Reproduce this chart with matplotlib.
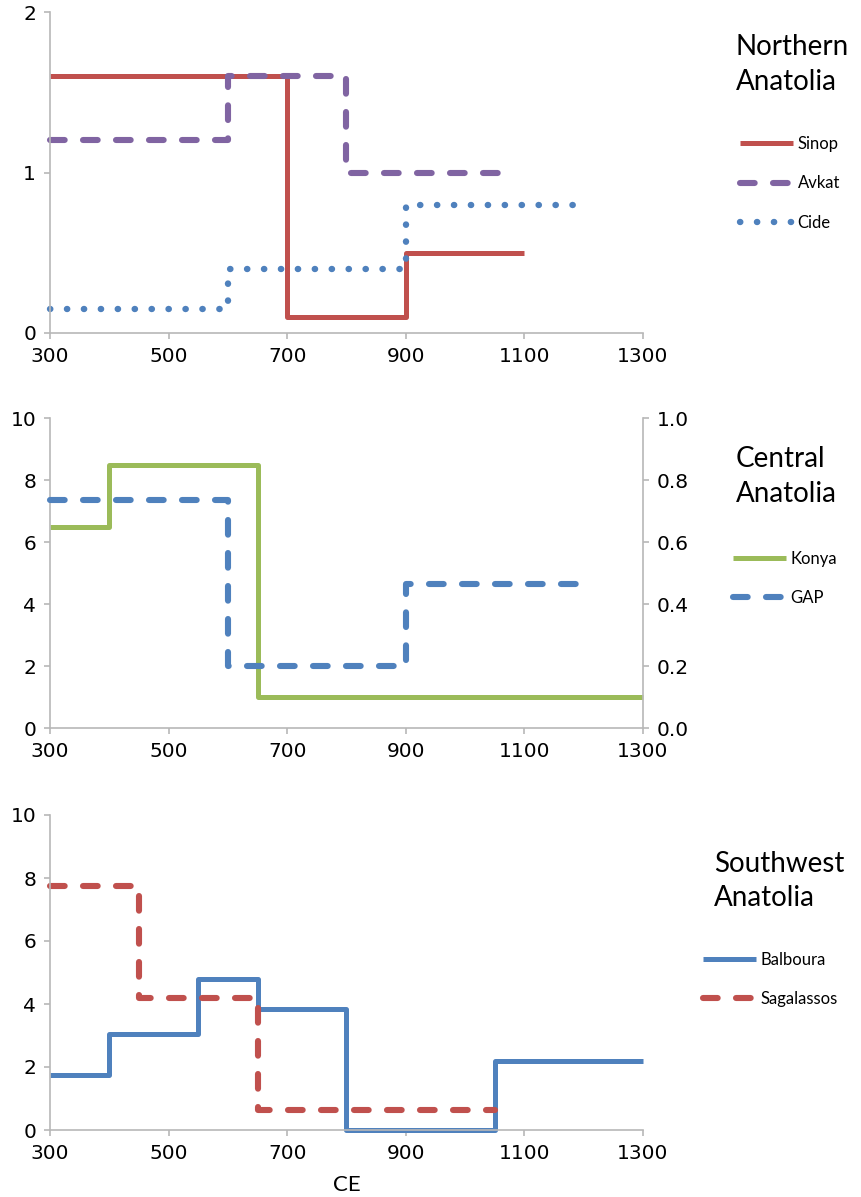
import matplotlib
matplotlib.use("Agg")
import matplotlib.pyplot as plt

# Northern Anatolia
sinop_x = [300, 700, 900, 1100]
sinop_y = [1.6, 0.1, 0.5, 0.5]
avkat_x = [300, 600, 800, 1080]
avkat_y = [1.2, 1.6, 1.0, 1.0]
cide_x = [300, 600, 900, 1200]
cide_y = [0.15, 0.4, 0.8, 0.8]

# Central Anatolia (GAP on the right axis)
konya_x = [300, 400, 650, 1300]
konya_y = [6.5, 8.5, 1.0, 1.0]
gap_x = [300, 600, 900, 1200]
gap_y = [0.735, 0.2, 0.465, 0.465]

# Southwest Anatolia
balboura_x = [300, 400, 550, 650, 800, 1050, 1300]
balboura_y = [1.75, 3.05, 4.8, 3.85, 0.0, 2.2, 2.2]
sagalassos_x = [300, 450, 650, 1050]
sagalassos_y = [7.75, 4.2, 0.65, 0.65]

x_ticks = [300, 500, 700, 900, 1100, 1300]

RED = "#c0504d"
PURPLE = "#8064a2"
BLUE = "#4f81bd"
GREEN = "#9bbb59"
GRAY = "#b8b8b8"

tick_font = ["Liberation Sans Narrow", "DejaVu Sans"]
text_font = ["Lato", "DejaVu Sans"]

W, H = 862, 1197
fig = plt.figure(figsize=(W / 100, H / 100), dpi=100)


def px_axes(left, top, right, bottom):
    return fig.add_axes([left / W, 1 - bottom / H, (right - left) / W, (bottom - top) / H])


def style(ax):
    for s in ["top", "right"]:
        ax.spines[s].set_visible(False)
    for s in ["left", "bottom"]:
        ax.spines[s].set_color(GRAY)
        ax.spines[s].set_linewidth(1.2)
    ax.tick_params(colors=GRAY, length=4, width=1.2, labelcolor="black", pad=6)
    ax.set_xlim(300, 1300)
    ax.set_xticks(x_ticks)
    for lab in ax.get_xticklabels() + ax.get_yticklabels():
        lab.set_family(tick_font)
        lab.set_fontsize(14.5)


long_dash = (2.4, 3.0)
dots = (0.05, 2.6)


def step(ax, x, y, color, dashes=None, lw=3.6):
    kw = dict(where="post", color=color, lw=lw, clip_on=False,
              solid_capstyle="butt", dash_capstyle="round")
    line, = ax.step(x, y, **kw)
    if dashes is not None:
        line.set_dashes(dashes)
    return line


def legend(ax, handles, labels, x, y):
    leg = ax.legend(handles, labels, loc="upper left",
                    bbox_to_anchor=(x / W, 1 - y / H), bbox_transform=fig.transFigure,
                    frameon=False, borderpad=0, borderaxespad=0,
                    handlelength=3.2, handletextpad=0.25, labelspacing=1.4,
                    prop={"family": text_font, "size": 12})
    return leg


def title(lines, x, baselines):
    for t, b in zip(lines, baselines):
        fig.text(x / W, 1 - b / H, t, family=text_font, fontsize=20, va="baseline", ha="left")


# panel 1
ax1 = px_axes(50, 12, 643, 333)
l1 = step(ax1, sinop_x, sinop_y, RED)
l2 = step(ax1, avkat_x, avkat_y, PURPLE, long_dash, lw=4.4)
l3 = step(ax1, cide_x, cide_y, BLUE, dots, lw=4.6)
ax1.set_ylim(0, 2)
ax1.set_yticks([0, 1, 2])
style(ax1)
legend(ax1, [l1, l2, l3], ["Sinop", "Avkat", "Cide"], 740, 136)
title(["Northern", "Anatolia"], 736, [55, 90])

# panel 2
ax2 = px_axes(50, 418, 643, 728)
k = step(ax2, konya_x, konya_y, GREEN)
ax2.set_ylim(0, 10)
ax2.set_yticks(range(0, 11, 2))
style(ax2)
ax2b = ax2.twinx()
g = step(ax2b, gap_x, gap_y, BLUE, long_dash, lw=4.4)
ax2b.set_ylim(0, 1.0)
ax2b.set_yticks([0.0, 0.2, 0.4, 0.6, 0.8, 1.0])
ax2b.set_yticklabels(["0.0", "0.2", "0.4", "0.6", "0.8", "1.0"])
for s in ["top", "left", "bottom"]:
    ax2b.spines[s].set_visible(False)
ax2b.spines["right"].set_color(GRAY)
ax2b.spines["right"].set_linewidth(1.2)
ax2b.tick_params(colors=GRAY, length=4, width=1.2, labelcolor="black", pad=6)
for lab in ax2b.get_yticklabels():
    lab.set_family(tick_font)
    lab.set_fontsize(14.5)
legend(ax2b, [k, g], ["Konya", "GAP"], 733, 551)
title(["Central", "Anatolia"], 736, [467, 502])

# panel 3
ax3 = px_axes(50, 815, 643, 1130)
b = step(ax3, balboura_x, balboura_y, BLUE)
s = step(ax3, sagalassos_x, sagalassos_y, RED, long_dash, lw=4.4)
ax3.set_ylim(0, 10)
ax3.set_yticks(range(0, 11, 2))
style(ax3)
ax3.set_xlabel("CE", family=text_font, fontsize=16, labelpad=9)
legend(ax3, [b, s], ["Balboura", "Sagalassos"], 703, 952)
title(["Southwest", "Anatolia"], 714, [872, 906])

fig.savefig("out.png", dpi=100)
